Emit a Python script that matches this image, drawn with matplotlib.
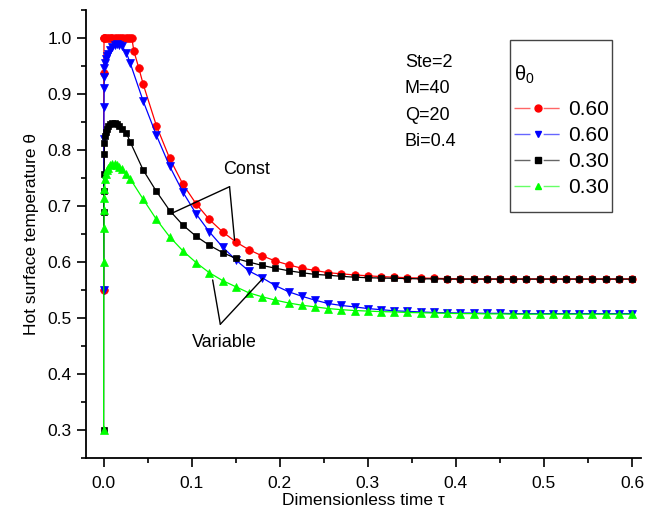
import matplotlib
matplotlib.use("Agg")
import matplotlib.pyplot as plt
from matplotlib.lines import Line2D
from matplotlib.patches import Rectangle
from matplotlib.ticker import MultipleLocator, FormatStrFormatter

plt.rcParams['font.family'] = ['Liberation Sans', 'DejaVu Sans']
plt.rcParams['mathtext.fontset'] = 'custom'
plt.rcParams['mathtext.rm'] = 'Liberation Sans'
plt.rcParams['mathtext.it'] = 'Liberation Sans'

# early times (shared by blue, black, green)
tau_early = [0.0, 0.0002, 0.0004, 0.0006, 0.0008, 0.001, 0.002, 0.003, 0.004,
             0.005, 0.0075, 0.01, 0.0125, 0.015, 0.0175, 0.0204, 0.0257, 0.030]
# red has its own early times (clamped at 1.0)
tau_red_early = [0.0, 0.0002, 0.0005, 0.001, 0.002, 0.004, 0.006, 0.008, 0.010,
                 0.0125, 0.015, 0.0175, 0.020, 0.0225, 0.025, 0.0275, 0.030,
                 0.032, 0.0343, 0.040]
tau_tail = [0.045, 0.060, 0.075, 0.090, 0.105, 0.120, 0.135, 0.150, 0.165,
            0.180, 0.195, 0.210, 0.225, 0.240, 0.255, 0.270, 0.285, 0.300,
            0.315, 0.330, 0.345, 0.360, 0.375, 0.390, 0.405, 0.420, 0.435,
            0.450, 0.465, 0.480, 0.495, 0.510, 0.525, 0.540, 0.555, 0.570,
            0.585, 0.600]

red_early = [0.55, 0.9375, 1.0, 1.0, 1.0, 1.0, 1.0, 1.0, 1.0, 1.0, 1.0, 1.0,
             1.0, 1.0, 1.0, 1.0, 1.0, 1.0, 0.977, 0.946]
red_tail = [0.917, 0.843, 0.785, 0.739, 0.704, 0.676, 0.654, 0.636, 0.622,
            0.611, 0.602, 0.595, 0.589, 0.585, 0.581, 0.579, 0.577, 0.5755,
            0.574, 0.573, 0.572, 0.5715, 0.571, 0.5705, 0.570, 0.570, 0.570,
            0.570, 0.570, 0.570, 0.570, 0.570, 0.570, 0.570, 0.570, 0.570,
            0.570, 0.570]

blue_early = [0.55, 0.82, 0.877, 0.91, 0.93, 0.946, 0.955, 0.962, 0.968,
              0.972, 0.979, 0.984, 0.987, 0.989, 0.988, 0.986, 0.974, 0.956]
blue_tail = [0.887, 0.826, 0.771, 0.725, 0.686, 0.654, 0.627, 0.604, 0.584,
             0.572, 0.558, 0.547, 0.539, 0.532, 0.526, 0.5225, 0.520, 0.517,
             0.515, 0.513, 0.512, 0.511, 0.510, 0.5095, 0.509, 0.509, 0.5085,
             0.5085, 0.508, 0.508, 0.508, 0.508, 0.508, 0.508, 0.508, 0.508,
             0.508, 0.508]

black_early = [0.30, 0.69, 0.726, 0.758, 0.792, 0.812, 0.825, 0.833, 0.838,
               0.842, 0.846, 0.848, 0.848, 0.846, 0.843, 0.838, 0.831, 0.815]
black_tail = [0.764, 0.726, 0.692, 0.666, 0.646, 0.630, 0.617, 0.6065, 0.600,
              0.594, 0.589, 0.5845, 0.581, 0.578, 0.5765, 0.5745, 0.573, 0.572,
              0.5715, 0.571, 0.5705, 0.570, 0.570, 0.5695, 0.5695, 0.5695,
              0.5695, 0.5695, 0.5695, 0.5695, 0.5695, 0.5695, 0.5695, 0.5695,
              0.5695, 0.5695, 0.5695, 0.5695]

green_early = [0.30, 0.60, 0.66, 0.693, 0.714, 0.731, 0.749, 0.757, 0.764,
               0.768, 0.773, 0.775, 0.775, 0.773, 0.770, 0.766, 0.758, 0.749]
green_tail = [0.712, 0.676, 0.645, 0.620, 0.599, 0.581, 0.567, 0.556, 0.545,
              0.538, 0.532, 0.527, 0.523, 0.520, 0.517, 0.515, 0.5135, 0.5125,
              0.5115, 0.511, 0.510, 0.5095, 0.509, 0.5085, 0.508, 0.508,
              0.5075, 0.5075, 0.507, 0.507, 0.507, 0.507, 0.507, 0.507, 0.507,
              0.507, 0.507, 0.507]

labels = ["0.60", "0.60", "0.30", "0.30"]
params = ["Ste=2", "M=40", "Q=20", "Bi=0.4"]

fig = plt.figure(figsize=(6.59, 5.23), dpi=100)
ax = fig.add_axes([0.1305, 0.124, 0.842, 0.857])

series = [
    (tau_red_early + tau_tail, red_early + red_tail, '#ff0000', 'o', 5.5),
    (tau_early + tau_tail, blue_early + blue_tail, '#0000ff', 'v', 6),
    (tau_early + tau_tail, black_early + black_tail, '#000000', 's', 5),
    (tau_early + tau_tail, green_early + green_tail, '#00ff00', '^', 6),
]

handles = []
for (t, v, c, m, ms), lab in zip(series, labels):
    ax.plot(t, v, color=c, marker=m, markersize=ms, lw=0.9,
            markeredgewidth=0.5, markeredgecolor=c)
    seg = Line2D([], [], color=c, lw=1, alpha=0.6, dashes=(11.5, 9.5))
    dot = Line2D([], [], color=c, marker=m, markersize=5, lw=0)
    handles.append((seg, dot))

ax.set_xlim(-0.02, 0.61)
ax.set_ylim(0.25, 1.05)
ax.xaxis.set_major_locator(MultipleLocator(0.1))
ax.xaxis.set_minor_locator(MultipleLocator(0.05))
ax.yaxis.set_major_locator(MultipleLocator(0.1))
ax.yaxis.set_minor_locator(MultipleLocator(0.05))
ax.xaxis.set_major_formatter(FormatStrFormatter('%.1f'))
ax.yaxis.set_major_formatter(FormatStrFormatter('%.1f'))

for s in ['top', 'right']:
    ax.spines[s].set_visible(False)
for s in ['left', 'bottom']:
    ax.spines[s].set_linewidth(1.3)

ax.tick_params(which='major', direction='out', length=6.5, width=1.2,
               labelsize=12.5, pad=4)
ax.tick_params(which='minor', direction='out', length=3.5, width=1.2)
ax.tick_params(axis='x', which='major', pad=6)

ax.set_xlabel("Dimensionless time \u03c4", fontsize=12.5, labelpad=2)
ax.set_ylabel("Hot surface temperature \u03b8", fontsize=12.5, labelpad=6)

# parameter block
for i, p in enumerate(params):
    ax.text(0.342, 0.948 - i * 0.047, p, fontsize=13, va='baseline',
            ha='left')

# Const / Variable pointers
ax.text(0.162, 0.766, "Const", fontsize=13, ha='center', va='center')
ax.annotate('', xy=(0.078, 0.6875), xytext=(0.143, 0.7345),
            arrowprops=dict(arrowstyle='-', lw=1, shrinkA=0, shrinkB=0))
ax.annotate('', xy=(0.1487, 0.639), xytext=(0.143, 0.7345),
            arrowprops=dict(arrowstyle='-', lw=1, shrinkA=0, shrinkB=0))

ax.text(0.1376, 0.456, "Variable", fontsize=13, ha='center', va='center')
ax.annotate('', xy=(0.1238, 0.568), xytext=(0.1325, 0.489),
            arrowprops=dict(arrowstyle='-', lw=1, shrinkA=0, shrinkB=0))
ax.annotate('', xy=(0.181, 0.571), xytext=(0.1325, 0.489),
            arrowprops=dict(arrowstyle='-', lw=1, shrinkA=0, shrinkB=0))

# legend with its own frame
fig.add_artist(Rectangle((0.774, 0.5946), 0.1548, 0.3289,
                         transform=fig.transFigure, fill=False,
                         edgecolor='#444444', lw=1.0))
leg = ax.legend(handles=handles, labels=labels, title=r'$\theta_0$',
                loc='upper left', bbox_to_anchor=(514 / 659, 1 - 64 / 523),
                bbox_transform=fig.transFigure, borderaxespad=0, borderpad=0,
                fontsize=15, title_fontsize=14.5, alignment='left',
                frameon=False, handlelength=2.3, handletextpad=0.3,
                labelspacing=0.33)
leg._legend_box.sep = 10

plt.savefig("out.png", dpi=100)
plt.close()
